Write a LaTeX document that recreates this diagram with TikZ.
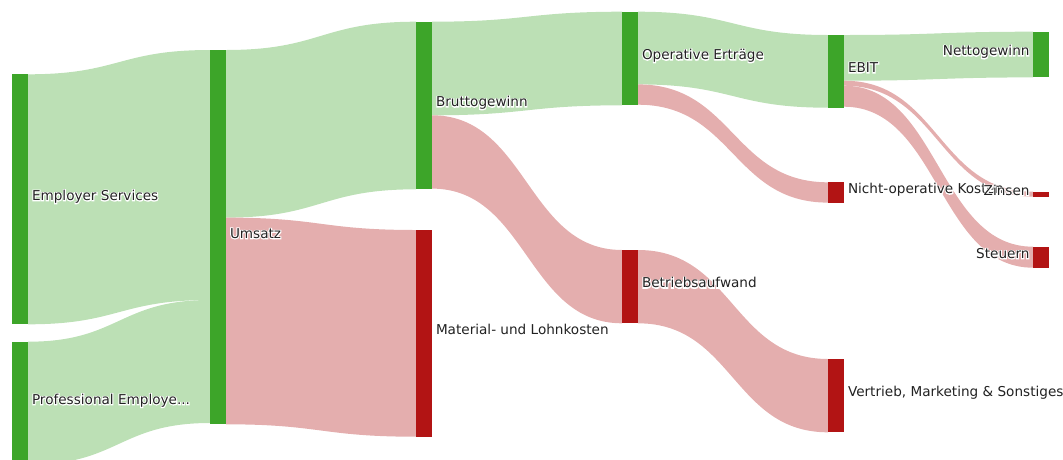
\documentclass[tikz,border=0pt]{standalone}
\usepackage{fontspec}
\setmainfont{DejaVu Sans}
\newfontfamily\halofont[FakeBold=14]{DejaVu Sans}
\usetikzlibrary{calc,backgrounds}
\definecolor{barG}{RGB}{61,165,41}
\definecolor{barR}{RGB}{178,20,20}
\definecolor{flowG}{RGB}{188,224,181}
\definecolor{flowR}{RGB}{228,174,174}
\definecolor{txt}{RGB}{34,34,34}
\newcommand\halo[1]{\sbox0{#1}\rlap{\hbox to \wd0{\hss\textcolor{white}{\halofont #1}\hss}}#1}
\tikzset{
  bar/.style={rectangle, draw=none, minimum width=16pt, inner sep=0pt, outer sep=0pt, anchor=north west},
  gbar/.style={bar, fill=barG},
  rbar/.style={bar, fill=barR},
  lbl/.style={inner sep=0pt, outer sep=0pt, font=\fontsize{13.6}{16}\selectfont, text=txt},
  lblR/.style={lbl, anchor=base west},
  lblL/.style={lbl, anchor=base east},
}
% source, offset at source, target, offset at target, thickness, colour
\newcommand\flow[6]{%
  \fill[#6] let \p1=($(#1.north east)+(0,#2)$), \p2=($(#3.north west)+(0,#4)$),
    \p3=($(#1.north east)+(0,#2+#5)$), \p4=($(#3.north west)+(0,#4+#5)$),
    \n1={(\x1+\x2)/2} in
    (\p1) .. controls (\n1,\y1) and (\n1,\y2) .. (\p2) -- (\p4)
    .. controls (\n1,\y4) and (\n1,\y3) .. (\p3) -- cycle;
}
\begin{document}
\begin{tikzpicture}[x=1pt,y=-1pt]
\useasboundingbox (0,0) rectangle (1063,459);
\clip (0,0) rectangle (1063,459);
% bars
\node[gbar, minimum height=250pt] (es) at (12,74.3) {};
\node[gbar, minimum height=123pt] (pe) at (12,341.7) {};
\node[gbar, minimum height=374.3pt] (ums) at (210,50) {};
\node[gbar, minimum height=167.6pt] (bg) at (416,21.7) {};
\node[rbar, minimum height=207.3pt] (mat) at (416,230) {};
\node[gbar, minimum height=93.6pt] (oe) at (622,11.7) {};
\node[rbar, minimum height=73.3pt] (ba) at (622,250) {};
\node[gbar, minimum height=72.7pt] (ebit) at (828,35) {};
\node[rbar, minimum height=20.3pt] (nok) at (828,182.3) {};
\node[rbar, minimum height=73.3pt] (vms) at (828,359) {};
\node[gbar, minimum height=45.7pt] (net) at (1033,31.7) {};
\node[rbar, minimum height=5pt] (zin) at (1033,191.7) {};
\node[rbar, minimum height=21pt] (st) at (1033,246.7) {};
% flows
\begin{pgfonlayer}{background}
\flow{es}{0}{ums}{0}{250}{flowG}
\flow{pe}{0}{ums}{250}{123}{flowG}
\flow{ums}{0}{bg}{0}{167.6}{flowG}
\flow{ums}{167.6}{mat}{0}{206.7}{flowR}
\flow{bg}{0}{oe}{0}{93.6}{flowG}
\flow{bg}{93.6}{ba}{0}{73.3}{flowR}
\flow{oe}{0}{ebit}{0}{72.7}{flowG}
\flow{oe}{72.7}{nok}{0}{20.3}{flowR}
\flow{ba}{0}{vms}{0}{73.3}{flowR}
\flow{ebit}{0}{net}{0}{45.7}{flowG}
\flow{ebit}{45.7}{zin}{0}{5}{flowR}
\flow{ebit}{50.7}{st}{0}{21}{flowR}
\end{pgfonlayer}
% labels
\node[lblR] (les) at ($(es.east)+(4,1.2)$) {\halo{Employer Services}};
\node[lblR] (lpe) at ($(pe.east)+(4,1.2)$) {\halo{Professional Employe...}};
\node[lblR] (lums) at ($(ums.east)+(4,1.2)$) {\halo{Umsatz}};
\node[lblR] (lbg) at ($(bg.east)+(4,1.2)$) {\halo{Bruttogewinn}};
\node[lblR] (lmat) at ($(mat.east)+(4,1.2)$) {\halo{Material- und Lohnkosten}};
\node[lblR] (loe) at ($(oe.east)+(4,1.2)$) {\halo{Operative Erträge}};
\node[lblR] (lba) at ($(ba.east)+(4,1.2)$) {\halo{Betriebsaufwand}};
\node[lblR] (lebit) at ($(ebit.east)+(4,1.2)$) {\halo{EBIT}};
\node[lblR] (lnok) at ($(nok.east)+(4,1.2)$) {\halo{Nicht-operative Kosten}};
\node[lblR] (lvms) at ($(vms.east)+(4,1.2)$) {\halo{Vertrieb, Marketing \& Sonstiges}};
\node[lblL] (lnet) at ($(net.west)+(-3.5,1.2)$) {\halo{Nettogewinn}};
\node[lblL] (lzin) at ($(zin.west)+(-3.5,1.2)$) {\halo{Zinsen}};
\node[lblL] (lst) at ($(st.west)+(-3.5,1.2)$) {\halo{Steuern}};
\end{tikzpicture}
\end{document}
